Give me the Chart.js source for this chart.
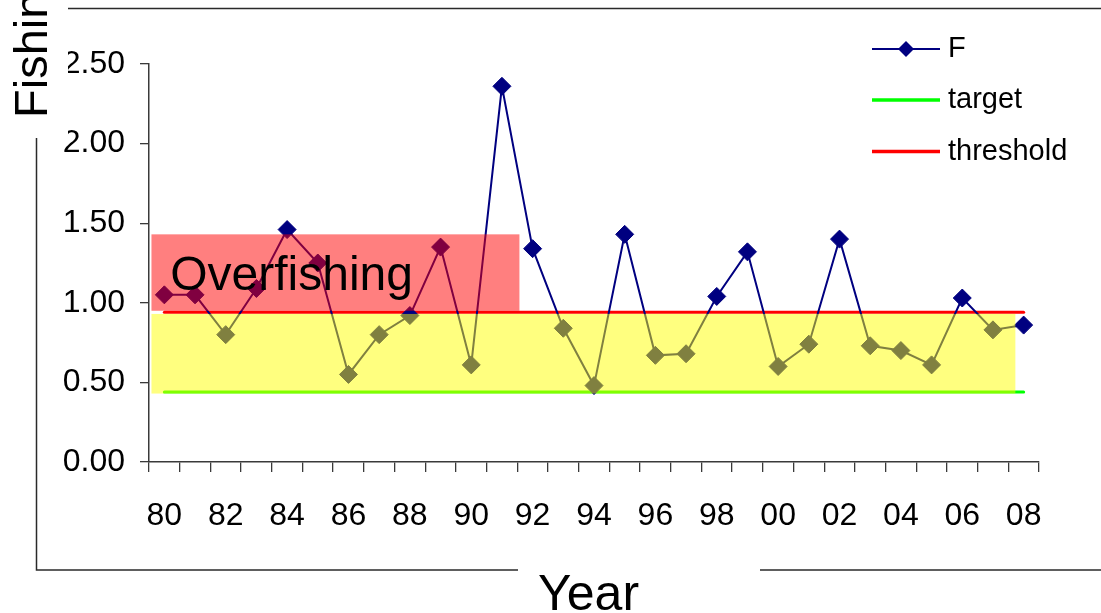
<!DOCTYPE html>
<html>
<head>
<meta charset="utf-8">
<script src="https://cdn.jsdelivr.net/npm/chart.js@4"></script>
<style>
  body { margin: 0; background: #fff; }
</style>
</head>
<body>
<canvas id="fChart" width="1101" height="613"></canvas>
<script>
var years = ['80', '81', '82', '83', '84', '85', '86', '87', '88', '89',
             '90', '91', '92', '93', '94', '95', '96', '97', '98', '99',
             '00', '01', '02', '03', '04', '05', '06', '07', '08'];
var fValues = [1.05, 1.05, 0.80, 1.09, 1.46, 1.25, 0.55, 0.80, 0.92, 1.35,
               0.61, 2.36, 1.34, 0.84, 0.48, 1.43, 0.67, 0.68, 1.04, 1.32,
               0.60, 0.74, 1.40, 0.73, 0.70, 0.61, 1.03, 0.83, 0.86];
var targetLevel = 0.44;
var thresholdLevel = 0.94;

// shaded zones (category index / F units)
var overfishingZone = { x0: -0.42, x1: 11.57, y0: 0.95, y1: 1.43 };
var cautionZone = { x0: -0.42, x1: 27.73, y0: 0.43, y1: 0.93 };

var FONT = '"Liberation Sans", Arial, sans-serif';
var axisColor = '#3a3a3a';

var zonePlugin = {
    id: 'zones',
    afterDatasetsDraw: function(chart) {
        var ctx = chart.ctx, xs = chart.scales.x, ys = chart.scales.y;
        function box(z, color) {
            var l = xs.getPixelForValue(z.x0), r = xs.getPixelForValue(z.x1);
            var t = ys.getPixelForValue(z.y1), b = ys.getPixelForValue(z.y0);
            ctx.fillStyle = color;
            ctx.fillRect(l, t, r - l, b - t);
        }
        ctx.save();
        box(cautionZone, 'rgba(255,255,0,0.5)');
        box(overfishingZone, 'rgba(255,0,0,0.5)');
        ctx.fillStyle = '#000';
        ctx.font = '48px ' + FONT;
        ctx.textBaseline = 'alphabetic';
        ctx.fillText('Overfishing', xs.getPixelForValue(0.19), ys.getPixelForValue(1.08));
        ctx.restore();
    }
};

// frame, axis titles and legend
var decorPlugin = {
    id: 'decor',
    afterDraw: function(chart) {
        var ctx = chart.ctx;
        ctx.save();
        ctx.strokeStyle = '#2a2a2a';
        ctx.lineWidth = 1.5;
        ctx.strokeRect(36.5, 8.5, 1101, 561.5);
        ctx.fillStyle = '#fff';
        ctx.fillRect(0, 0, 68, 138);
        ctx.fillRect(518, 560, 242, 53);

        ctx.fillStyle = '#000';
        ctx.font = '50px ' + FONT;
        ctx.textBaseline = 'alphabetic';
        ctx.fillText('Year', 538, 610);

        ctx.save();
        ctx.translate(47, 118);
        ctx.rotate(-Math.PI / 2);
        ctx.font = '47px ' + FONT;
        ctx.fillText('Fishing Mortality', 0, 0);
        ctx.restore();

        // legend
        var rows = [49, 100, 151.5];
        ctx.font = '29px ' + FONT;
        ctx.textBaseline = 'middle';
        chart.data.datasets.forEach(function(ds, i) {
            var y = rows[i];
            ctx.strokeStyle = ds.borderColor;
            ctx.lineWidth = ds.pointRadius > 0 ? ds.borderWidth : 3.5;
            ctx.beginPath();
            ctx.moveTo(872, y);
            ctx.lineTo(940, y);
            ctx.stroke();
            if (ds.pointRadius > 0) {
                ctx.fillStyle = ds.pointBackgroundColor;
                ctx.beginPath();
                ctx.moveTo(906 - 8, y);
                ctx.lineTo(906, y - 8);
                ctx.lineTo(906 + 8, y);
                ctx.lineTo(906, y + 8);
                ctx.closePath();
                ctx.fill();
            }
            ctx.fillStyle = '#000';
            ctx.fillText(ds.label, 948, y);
        });
        ctx.restore();
    }
};

var ctxF = document.getElementById('fChart').getContext('2d');
var fChart = new Chart(ctxF, {
    type: 'line',
    data: {
        labels: years,
        datasets: [{
            label: 'F',
            data: fValues,
            borderColor: '#000080',
            backgroundColor: '#000080',
            pointBackgroundColor: '#000080',
            pointBorderColor: '#000080',
            borderWidth: 2,
            pointStyle: 'rectRot',
            pointRadius: 9,
            pointBorderWidth: 1,
            tension: 0
        }, {
            label: 'target',
            data: years.map(function() { return targetLevel; }),
            borderColor: '#00ff00',
            borderWidth: 3,
            pointRadius: 0,
            borderCapStyle: 'round'
        }, {
            label: 'threshold',
            data: years.map(function() { return thresholdLevel; }),
            borderColor: '#ff0000',
            borderWidth: 3,
            pointRadius: 0,
            borderCapStyle: 'round'
        }]
    },
    options: {
        responsive: false,
        animation: false,
        layout: { padding: { left: 0, top: 64, right: 62, bottom: 0 } },
        plugins: {
            legend: { display: false },
            tooltip: { enabled: false }
        },
        scales: {
            x: {
                offset: true,
                grid: {
                    offset: true,
                    drawOnChartArea: false,
                    drawTicks: true,
                    tickLength: 10,
                    color: axisColor,
                    lineWidth: 1.3
                },
                border: { color: axisColor, width: 1.5 },
                ticks: {
                    autoSkip: false,
                    maxRotation: 0,
                    padding: 25,
                    color: '#000',
                    font: { family: FONT, size: 32 },
                    callback: function(v, i) { return i % 2 === 0 ? years[i] : ''; }
                },
                afterFit: function(scale) { scale.height = 151; }
            },
            y: {
                min: 0,
                max: 2.5,
                grid: {
                    drawOnChartArea: false,
                    drawTicks: true,
                    tickLength: 9,
                    color: axisColor,
                    lineWidth: 1.3
                },
                border: { color: axisColor, width: 1.5 },
                ticks: {
                    stepSize: 0.5,
                    padding: 15,
                    color: '#000',
                    font: { family: FONT, size: 32 },
                    callback: function(v) { return v.toFixed(2); }
                },
                afterFit: function(scale) { scale.width = 149; }
            }
        }
    },
    plugins: [zonePlugin, decorPlugin]
});
</script>
</body>
</html>
